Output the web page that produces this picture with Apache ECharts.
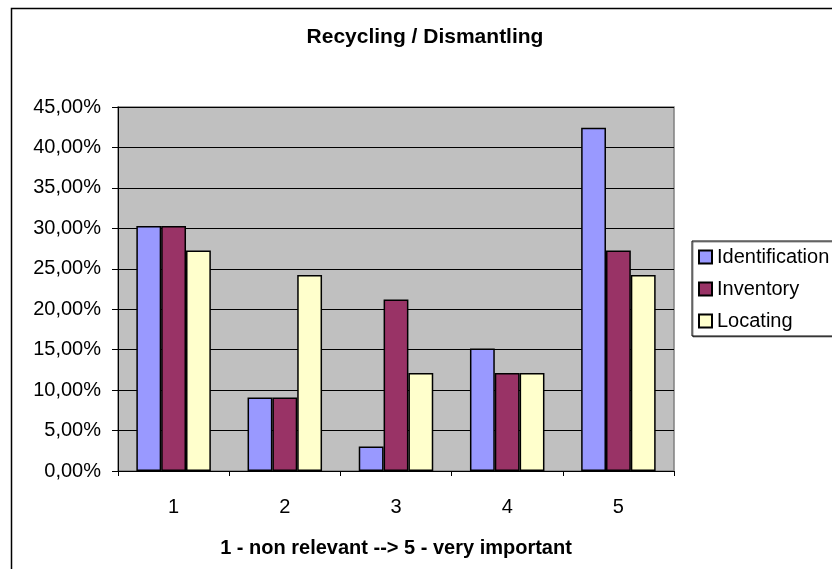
<!DOCTYPE html>
<html>
<head>
<meta charset="utf-8">
<script src="https://cdn.jsdelivr.net/npm/echarts@6/dist/echarts.min.js"></script>
<style>
  html, body { margin: 0; padding: 0; background: #ffffff; }
  #chart { width: 832px; height: 569px; }
</style>
</head>
<body>
<div id="chart"></div>
<script>
// Survey answers, share of respondents per rating (percent)
const categories = ['1', '2', '3', '4', '5'];
const identification = [30.30, 9.09, 3.03, 15.15, 42.42];
const inventory = [30.30, 9.09, 21.21, 12.12, 27.27];
const locating = [27.27, 24.24, 12.12, 12.12, 24.24];
const seriesNames = ['Identification', 'Inventory', 'Locating'];
const seriesColors = ['#9999FF', '#993366', '#FFFFCC'];

const FONT = 'Liberation Sans, Arial, sans-serif';
const chart = echarts.init(document.getElementById('chart'));

function fmtPct(v) {
  return v.toFixed(2).replace('.', ',') + '%';
}

const values = [identification, inventory, locating];

chart.setOption({
  animation: false,
  backgroundColor: '#ffffff',
  title: {
    text: 'Recycling / Dismantling',
    left: 425,
    textAlign: 'center',
    top: 27,
    padding: 0,
    textStyle: { fontFamily: FONT, fontSize: 21, fontWeight: 'bold', color: '#000' }
  },
  graphic: [{
    type: 'rect',
    shape: { x: 11.5, y: 8.5, width: 840, height: 580 },
    style: { fill: 'none', stroke: '#000', lineWidth: 1.5 },
    z: -10
  }],
  legend: {
    orient: 'vertical',
    left: 692,
    top: 241,
    padding: [6, 10, 5, 6],
    itemGap: 12,
    itemWidth: 13,
    itemHeight: 13,
    icon: 'rect',
    backgroundColor: '#ffffff',
    borderColor: '#000',
    borderWidth: 1,
    shadowColor: 'rgba(0,0,0,0.45)',
    shadowOffsetX: 1,
    shadowOffsetY: 1,
    textStyle: { fontFamily: FONT, fontSize: 20, color: '#000' },
    data: seriesNames
  },
  grid: {
    left: 118,
    right: 158,
    top: 107,
    bottom: 98,
    show: true,
    backgroundColor: '#C0C0C0',
    borderColor: '#808080',
    borderWidth: 1.5
  },
  xAxis: {
    type: 'category',
    data: categories,
    boundaryGap: true,
    name: '1 - non relevant --> 5 - very important',
    nameLocation: 'middle',
    nameGap: 67,
    nameTextStyle: { fontFamily: FONT, fontSize: 20, fontWeight: 'bold', color: '#000' },
    axisLine: { lineStyle: { color: '#000', width: 1 } },
    axisTick: { show: true, alignWithLabel: false, length: 5, lineStyle: { color: '#000' } },
    axisLabel: { fontFamily: FONT, fontSize: 20, color: '#000', margin: 26 },
    splitLine: { show: false }
  },
  yAxis: {
    type: 'value',
    min: 0,
    max: 45,
    interval: 5,
    axisLine: { show: true, lineStyle: { color: '#000', width: 1 } },
    axisTick: { show: true, length: 6, lineStyle: { color: '#000' } },
    axisLabel: { fontFamily: FONT, fontSize: 20, color: '#000', margin: 17, formatter: fmtPct },
    splitLine: { show: true, lineStyle: { color: '#000', width: 1 } }
  },
  series: seriesNames.map((name, i) => ({
    name: name,
    type: 'bar',
    data: values[i],
    barGap: '0%',
    barCategoryGap: '33%',
    itemStyle: { color: seriesColors[i], borderColor: '#000', borderWidth: 1.5 }
  }))
});
</script>
</body>
</html>
